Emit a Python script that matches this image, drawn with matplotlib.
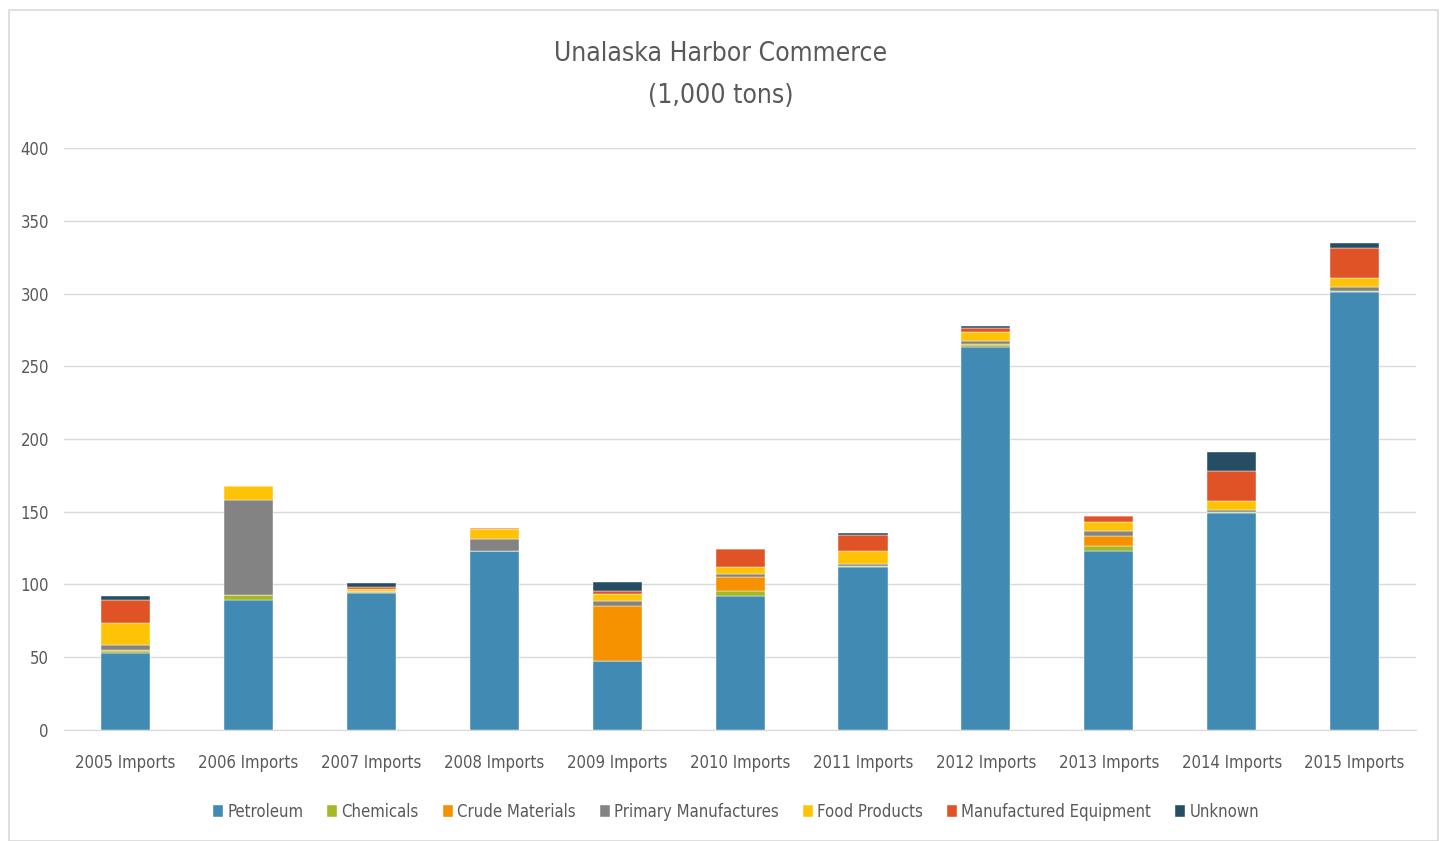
import numpy as np
import matplotlib.pyplot as plt
from matplotlib.patches import Rectangle

plt.rcParams['font.family'] = ['DejaVu Sans']
plt.rcParams['font.stretch'] = 'condensed'

years = ['2005 Imports', '2006 Imports', '2007 Imports', '2008 Imports', '2009 Imports',
         '2010 Imports', '2011 Imports', '2012 Imports', '2013 Imports', '2014 Imports',
         '2015 Imports']

petroleum = [53, 89.5, 94, 123, 47.6, 92, 112, 263.4, 123.2, 149, 300.8]
chemicals = [1.5, 3.2, 0.5, 0, 0, 3.4, 0.5, 1.2, 3.5, 0.9, 0.9]
crude = [0.3, 0, 0.8, 0, 37.6, 9.9, 0.3, 0.9, 6.8, 0, 0]
primary = [3.5, 65.5, 0.3, 8.5, 3.5, 2, 1, 2, 3.5, 1.6, 2.6]
food = [15.3, 9.4, 1.2, 6.4, 4.8, 5, 9.5, 6.2, 5.7, 6, 6.1]
equipment = [15.4, 0, 1.5, 1.2, 1.8, 12, 11, 2.7, 4.4, 20.4, 21.1]
unknown = [3.2, 0, 2.5, 0, 6.2, 0, 1.3, 1.6, 0, 13.5, 3.4]

series = [('Petroleum', petroleum, '#418AB3'),
          ('Chemicals', chemicals, '#A6B727'),
          ('Crude Materials', crude, '#F69200'),
          ('Primary Manufactures', primary, '#838383'),
          ('Food Products', food, '#FEC306'),
          ('Manufactured Equipment', equipment, '#DF5327'),
          ('Unknown', unknown, '#254E64')]

fig = plt.figure(figsize=(14.42, 8.41), dpi=100)
ax = fig.add_axes([0.0445, 0.132, 0.9375, 0.692])

x = np.arange(len(years))
bottom = np.zeros(len(years))
for name, vals, col in series:
    ax.bar(x, vals, 0.4, bottom=bottom, color=col, label=name,
           edgecolor='white', linewidth=0.3, zorder=3)
    bottom += np.array(vals)

ax.set_ylim(0, 400)
ax.set_xlim(-0.5, len(years) - 0.5)
ax.set_yticks(range(0, 401, 50))
ax.set_xticks(x)
ax.set_xticklabels(years)
ax.yaxis.grid(True, color='#D9D9D9', linewidth=1, zorder=0)
for s in ['top', 'right', 'left']:
    ax.spines[s].set_visible(False)
ax.spines['bottom'].set_color('#D9D9D9')
ax.tick_params(axis='both', length=0, labelsize=12, colors='#595959')
ax.tick_params(axis='x', pad=17)
ax.tick_params(axis='y', pad=11)

fig.text(0.5, 0.911, 'Unalaska Harbor Commerce\n(1,000 tons)', ha='center', va='center',
         fontsize=19, color='#595959', linespacing=1.78)

ax.legend(loc='upper center', bbox_to_anchor=(0.497, -0.1), ncol=7, frameon=False,
          fontsize=12, labelcolor='#595959', handlelength=0.6, handleheight=0.75,
          handletextpad=0.25, columnspacing=1.45)

fig.patches.append(Rectangle((0.006, 0.0), 0.991, 0.988, transform=fig.transFigure,
                             fill=False, edgecolor='#D9D9D9', linewidth=1.2))

fig.savefig('out.png', dpi=100)
